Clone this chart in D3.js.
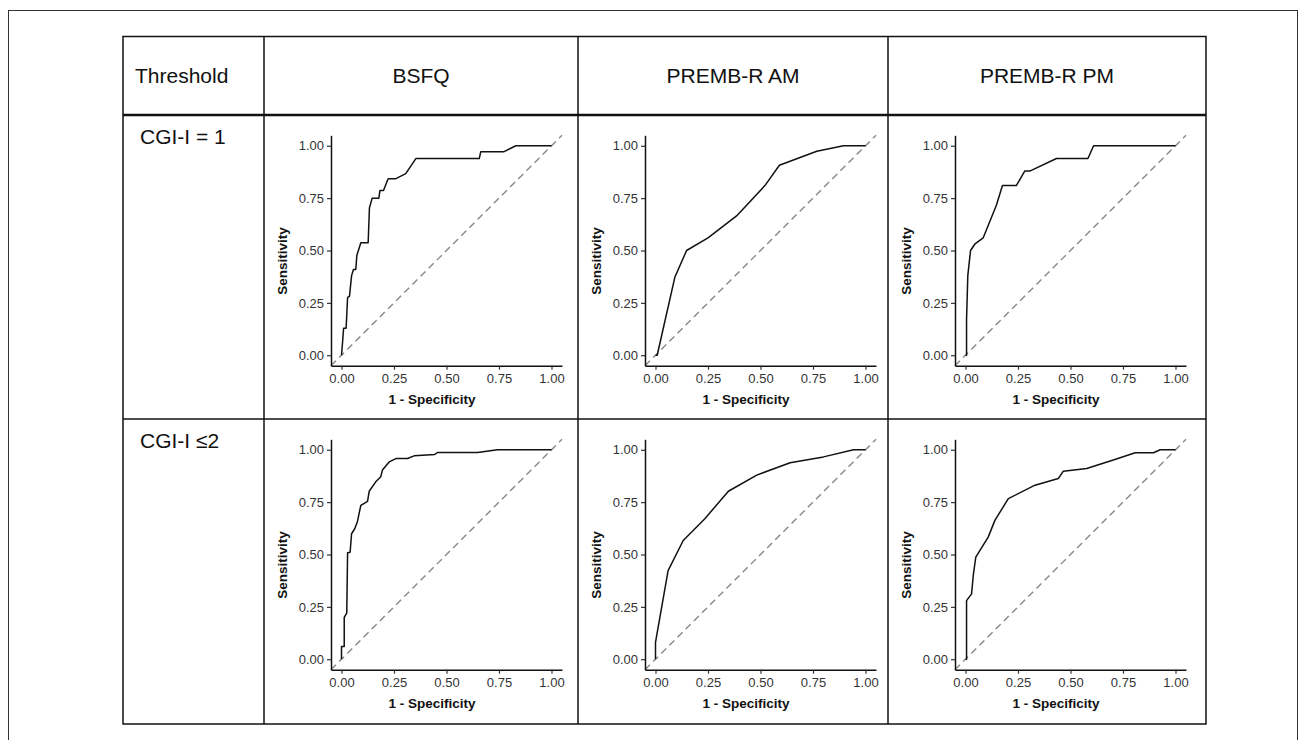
<!DOCTYPE html>
<html>
<head>
<meta charset="utf-8">
<script src="https://cdn.jsdelivr.net/npm/d3@7"></script>
<style>
  body { margin: 0; background: #fff; }
  svg { font-family: "Liberation Sans", Arial, sans-serif; }
</style>
</head>
<body>
<svg id="fig" width="1306" height="740"></svg>
<script>
// table text
var columns = ["BSFQ", "PREMB-R AM", "PREMB-R PM"];
var thresholds = ["CGI-I = 1", "CGI-I \u22642"];
var tickVals = [0, 0.25, 0.5, 0.75, 1];

// ROC curves (1 - specificity, sensitivity)
var bsfq1Fpr = [0, 0.005, 0.010, 0.022, 0.029, 0.038, 0.048, 0.057, 0.068, 0.073, 0.092, 0.127, 0.133, 0.146, 0.178, 0.183, 0.200, 0.222, 0.259, 0.306, 0.354, 0.656, 0.663, 0.772, 0.830, 1.0];
var bsfq1Tpr = [0, 0.061, 0.129, 0.129, 0.276, 0.281, 0.380, 0.409, 0.409, 0.476, 0.537, 0.537, 0.703, 0.750, 0.750, 0.786, 0.786, 0.843, 0.843, 0.867, 0.939, 0.939, 0.971, 0.971, 1.0, 1.0];

var am1Fpr = [0, 0.008, 0.092, 0.148, 0.25, 0.386, 0.521, 0.59, 0.768, 0.895, 1.0];
var am1Tpr = [0, 0.0, 0.372, 0.50, 0.56, 0.665, 0.81, 0.907, 0.974, 1.0, 1.0];

var pm1Fpr = [0, 0.005, 0.005, 0.011, 0.024, 0.044, 0.084, 0.147, 0.176, 0.242, 0.282, 0.306, 0.433, 0.583, 0.610, 1.0];
var pm1Tpr = [0, 0, 0.17, 0.38, 0.50, 0.53, 0.56, 0.716, 0.81, 0.81, 0.879, 0.879, 0.939, 0.939, 1.0, 1.0];

var bsfq2Fpr = [0, 0, 0.013, 0.013, 0.025, 0.029, 0.041, 0.048, 0.063, 0.076, 0.092, 0.124, 0.132, 0.163, 0.187, 0.195, 0.227, 0.259, 0.314, 0.346, 0.444, 0.457, 0.648, 0.743, 1.0];
var bsfq2Tpr = [0, 0.061, 0.061, 0.20, 0.22, 0.508, 0.511, 0.599, 0.623, 0.658, 0.735, 0.754, 0.802, 0.847, 0.871, 0.903, 0.942, 0.958, 0.958, 0.971, 0.978, 0.987, 0.987, 1.0, 1.0];

var am2Fpr = [0, 0, 0.06, 0.132, 0.235, 0.347, 0.482, 0.641, 0.80, 0.943, 1.0];
var am2Tpr = [0, 0.08, 0.423, 0.567, 0.671, 0.802, 0.879, 0.938, 0.966, 1.0, 1.0];

var pm2Fpr = [0, 0.005, 0.005, 0.029, 0.037, 0.049, 0.108, 0.140, 0.204, 0.331, 0.442, 0.466, 0.577, 0.704, 0.808, 0.895, 0.927, 1.0];
var pm2Tpr = [0, 0, 0.28, 0.312, 0.40, 0.487, 0.583, 0.663, 0.767, 0.831, 0.863, 0.898, 0.911, 0.951, 0.986, 0.986, 1.0, 1.0];

var curves = [
  [[bsfq1Fpr, bsfq1Tpr], [am1Fpr, am1Tpr], [pm1Fpr, pm1Tpr]],
  [[bsfq2Fpr, bsfq2Tpr], [am2Fpr, am2Tpr], [pm2Fpr, pm2Tpr]]
];

var svg = d3.select("svg#fig");

// grid of the table
var colX = [123, 264, 578, 888, 1206];
var rowY = [36.5, 115, 419, 724];

// outer frame
svg.append("rect")
  .attr("x", 8.5).attr("y", 10.5)
  .attr("width", 1289).attr("height", 760)
  .attr("fill", "none").attr("stroke", "#333").attr("stroke-width", 1);

var table = svg.append("g").attr("id", "table");
table.append("rect")
  .attr("x", colX[0]).attr("y", rowY[0])
  .attr("width", colX[4] - colX[0]).attr("height", rowY[3] - rowY[0])
  .attr("fill", "none").attr("stroke", "#111").attr("stroke-width", 1.5);

colX.slice(1, 4).forEach(x => {
  table.append("line")
    .attr("x1", x).attr("x2", x).attr("y1", rowY[0]).attr("y2", rowY[3])
    .attr("stroke", "#111").attr("stroke-width", 1.5);
});
table.append("line")
  .attr("x1", colX[0]).attr("x2", colX[4]).attr("y1", rowY[1]).attr("y2", rowY[1])
  .attr("stroke", "#111").attr("stroke-width", 2.5);
table.append("line")
  .attr("x1", colX[0]).attr("x2", colX[4]).attr("y1", rowY[2]).attr("y2", rowY[2])
  .attr("stroke", "#111").attr("stroke-width", 1.5);

// header
table.append("text")
  .attr("x", 135).attr("y", 83)
  .style("font-size", "21px").attr("fill", "#111")
  .text("Threshold");

columns.forEach((c, i) => {
  table.append("text")
    .attr("x", (colX[i + 1] + colX[i + 2]) / 2).attr("y", 83)
    .attr("text-anchor", "middle")
    .style("font-size", "21px").attr("fill", "#111")
    .text(c);
});

thresholds.forEach((t, r) => {
  table.append("text")
    .attr("x", 140).attr("y", rowY[r + 1] + 29)
    .style("font-size", "21px").attr("fill", "#111")
    .text(t);
});

// one ROC panel per cell
var fmt = d3.format(".2f");
var line = d3.line();

curves.forEach((row, r) => {
  row.forEach((pair, c) => {
    var axisX = colX[c + 1] + 67;
    var top = rowY[r + 1] + 20.3;
    var bottom = rowY[r + 1] + 250.7;

    var x = d3.scaleLinear().domain([-0.05, 1.05]).range([axisX, axisX + 231]);
    var y = d3.scaleLinear().domain([-0.05, 1.05]).range([bottom, top]);

    var g = svg.append("g").attr("class", "panel");

    // reference diagonal
    g.append("path")
      .attr("d", line([[x(-0.05), y(-0.05)], [x(1.05), y(1.05)]]))
      .attr("fill", "none")
      .attr("stroke", "#888")
      .attr("stroke-width", 1.4)
      .attr("stroke-dasharray", "7,4.5");

    var pts = pair[0].map((f, i) => [x(f), y(pair[1][i])]);
    g.append("path")
      .attr("d", line(pts))
      .attr("fill", "none")
      .attr("stroke", "#111")
      .attr("stroke-width", 1.5)
      .attr("stroke-linejoin", "round");

    var ax = g.append("g")
      .attr("transform", "translate(0," + bottom + ")")
      .call(d3.axisBottom(x).tickValues(tickVals).tickFormat(fmt).tickSize(4).tickSizeOuter(0).tickPadding(4));
    var ay = g.append("g")
      .attr("transform", "translate(" + axisX + ",0)")
      .call(d3.axisLeft(y).tickValues(tickVals).tickFormat(fmt).tickSize(4).tickSizeOuter(0).tickPadding(3));

    [ax, ay].forEach(a => {
      a.select(".domain").attr("stroke", "#111").attr("stroke-width", 1.5);
      a.selectAll(".tick line").attr("stroke", "#333").attr("stroke-width", 1.2);
      a.selectAll(".tick text")
        .style("font-size", "13px")
        .style("font-family", "'Liberation Sans', Arial, sans-serif")
        .attr("fill", "#333");
    });

    g.append("text")
      .attr("x", axisX + 101).attr("y", rowY[r + 1] + 289)
      .attr("text-anchor", "middle")
      .style("font-size", "13.5px").style("font-weight", "bold").attr("fill", "#111")
      .text("1 - Specificity");

    g.append("text")
      .attr("transform", "translate(" + (axisX - 44) + "," + (rowY[r + 1] + 146) + ") rotate(-90)")
      .attr("text-anchor", "middle")
      .style("font-size", "13.5px").style("font-weight", "bold").attr("fill", "#111")
      .text("Sensitivity");
  });
});
</script>
</body>
</html>
